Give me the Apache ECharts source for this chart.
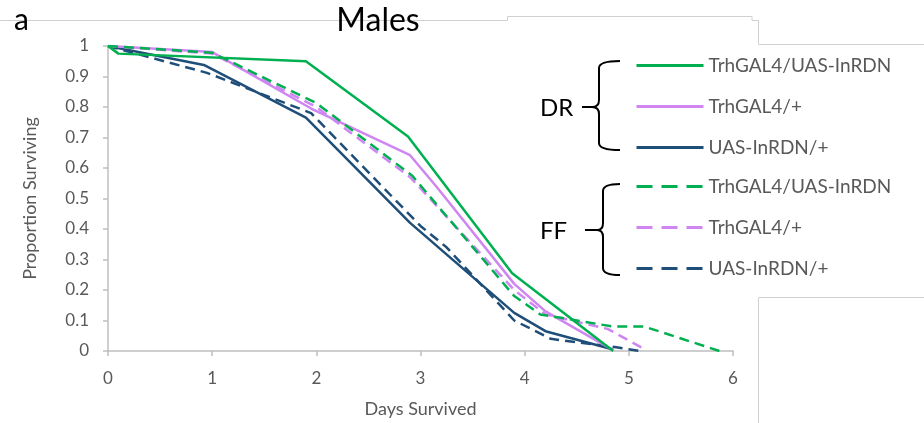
<!DOCTYPE html>
<html>
<head>
<meta charset="utf-8">
<script src="https://cdn.jsdelivr.net/npm/echarts@6/dist/echarts.min.js"></script>
<style>html,body{margin:0;padding:0;background:#fff}#c{width:924px;height:423px}</style>
</head>
<body>
<div id="c"></div>
<script>
// Data: [days, proportion surviving]
const drTrhUas = [[0,1],[0.1,0.975],[1.9,0.95],[2.88,0.703],[3.88,0.255],[4.85,0]];
const drTrh    = [[0,1],[1,0.98],[1.95,0.795],[2.9,0.642],[3.15,0.54],[3.9,0.22],[4.2,0.13],[4.85,0.003]];
const drUas    = [[0,1],[0.92,0.938],[1.9,0.765],[2.9,0.42],[3.9,0.125],[4.2,0.065],[4.85,0.005]];
const ffTrhUas = [[0,1],[1,0.978],[2,0.813],[2.92,0.575],[3.9,0.18],[4.15,0.12],[4.85,0.08],[5.15,0.08],[5.87,0]];
const ffTrh    = [[0,1],[1,0.975],[2,0.8],[2.9,0.57],[3.9,0.2],[4.2,0.12],[4.8,0.072],[5.13,0.01]];
const ffUas    = [[0,1],[0.95,0.912],[1.95,0.78],[3.0,0.41],[3.25,0.34],[3.9,0.1],[4.25,0.04],[4.88,0.012],[5.1,0]];

const groupNames = ['TrhGAL4/UAS-InRDN','TrhGAL4/+','UAS-InRDN/+'];
const xTicks = [0,1,2,3,4,5,6];
const yTicks = [0,0.1,0.2,0.3,0.4,0.5,0.6,0.7,0.8,0.9,1];

const colors = ['#00B050','#CF86F2','#1F4E79'];
const drData = [drTrhUas, drTrh, drUas];
const ffData = [ffTrhUas, ffTrh, ffUas];

const series = [];
drData.forEach((d,i)=>series.push({
  name:'DR '+groupNames[i], type:'line', data:d, symbol:'none',
  lineStyle:{color:colors[i], width:2.5, type:'solid'}, itemStyle:{color:colors[i]}, z: 3-i
}));
ffData.forEach((d,i)=>series.push({
  name:'FF '+groupNames[i], type:'line', data:d, symbol:'none',
  lineStyle:{color:colors[i], width:2.5, type:[10,6]}, itemStyle:{color:colors[i]}, z: 3-i
}));

const chart = echarts.init(document.getElementById('c'));
const legendCommon = {
  orient:'vertical', left:630, itemWidth:67, itemHeight:19, itemGap:22, padding:5,
  itemStyle:{opacity:0},
  textStyle:{fontFamily:'Lato', fontSize:19, color:'#595959'},
  formatter: n => n.slice(3)
};
const grayLine = {stroke:'#D0D0D0', lineWidth:1, fill:null};
const blk = {stroke:'#000', lineWidth:2, fill:null};
function brace(x, y1, ym, y2, xm, xt, xh){
  const r = 7;
  return [
    {type:'bezierCurve', shape:{x1:xh,y1:y1,x2:x,y2:y1+r,cpx1:x,cpy1:y1}, style:blk, silent:true},
    {type:'line', shape:{x1:x,y1:y1+r,x2:x,y2:ym-r}, style:blk, silent:true},
    {type:'bezierCurve', shape:{x1:x,y1:ym-r,x2:xm,y2:ym,cpx1:x,cpy1:ym}, style:blk, silent:true},
    {type:'bezierCurve', shape:{x1:xm,y1:ym,x2:x,y2:ym+r,cpx1:x,cpy1:ym}, style:blk, silent:true},
    {type:'line', shape:{x1:x,y1:ym+r,x2:x,y2:y2-r}, style:blk, silent:true},
    {type:'bezierCurve', shape:{x1:x,y1:y2-r,x2:xh,y2:y2,cpx1:x,cpy1:y2}, style:blk, silent:true},
    {type:'line', shape:{x1:xm,y1:ym,x2:xt,y2:ym}, style:blk, silent:true}
  ];
}
chart.setOption({
  animation:false,
  grid:{left:108, right:191, top:46, bottom:71},
  xAxis:{
    type:'value', min:xTicks[0], max:xTicks[xTicks.length-1], interval:1,
    name:'Days Survived', nameLocation:'middle', nameGap:49,
    nameTextStyle:{fontFamily:'Lato', fontSize:18, color:'#595959'},
    axisLine:{show:true, lineStyle:{color:'#BFBFBF', width:1.5}},
    axisTick:{show:true, length:5, lineStyle:{color:'#BFBFBF', width:1.5}},
    axisLabel:{fontFamily:'Lato', fontSize:17, color:'#595959', margin:19},
    splitLine:{show:false}
  },
  yAxis:{
    type:'value', min:yTicks[0], max:yTicks[yTicks.length-1], interval:0.1,
    name:'Proportion Surviving', nameLocation:'middle', nameGap:69, nameRotate:90,
    nameTextStyle:{fontFamily:'Lato', fontSize:18, color:'#595959'},
    axisLine:{show:true, lineStyle:{color:'#BFBFBF', width:1.5}},
    axisTick:{show:true, length:5, inside:false, lineStyle:{color:'#BFBFBF', width:1.5}},
    axisLabel:{fontFamily:'Lato', fontSize:17, color:'#595959', margin:19},
    splitLine:{show:false}
  },
  legend:[
    Object.assign({}, legendCommon, {top:51, data:series.slice(0,3).map(s=>({name:s.name, lineStyle:{width:3, opacity:1}}))}),
    Object.assign({}, legendCommon, {top:172, data:series.slice(3).map(s=>({name:s.name, lineStyle:{width:3, opacity:1, type:[16,9]}}))})
  ],
  graphic:[
    {type:'polyline', shape:{points:[[0,20.5],[507.5,20.5],[507.5,16.5],[752,16.5],[752,20.5],[758.5,20.5],[758.5,44.5],[924,44.5]]}, style:grayLine, silent:true},
    {type:'polyline', shape:{points:[[758.5,423],[758.5,297.5],[924,297.5]]}, style:grayLine, silent:true},
    {type:'text', x:14, y:20, style:{text:'a', font:'30px Lato', fill:'#000', verticalAlign:'middle'}},
    {type:'text', x:378, y:21, style:{text:'Males', font:'32px Lato', fill:'#000', align:'center', verticalAlign:'middle'}},
    {type:'text', x:540, y:108, style:{text:'DR', font:'24px Lato', fill:'#000', verticalAlign:'middle'}},
    {type:'text', x:540, y:231, style:{text:'FF', font:'24px Lato', fill:'#000', verticalAlign:'middle'}}
  ].concat(brace(599,61,107,150,592,582,620), brace(603,184,230,275,597,585,620)),
  series: series
});
</script>
</body>
</html>
